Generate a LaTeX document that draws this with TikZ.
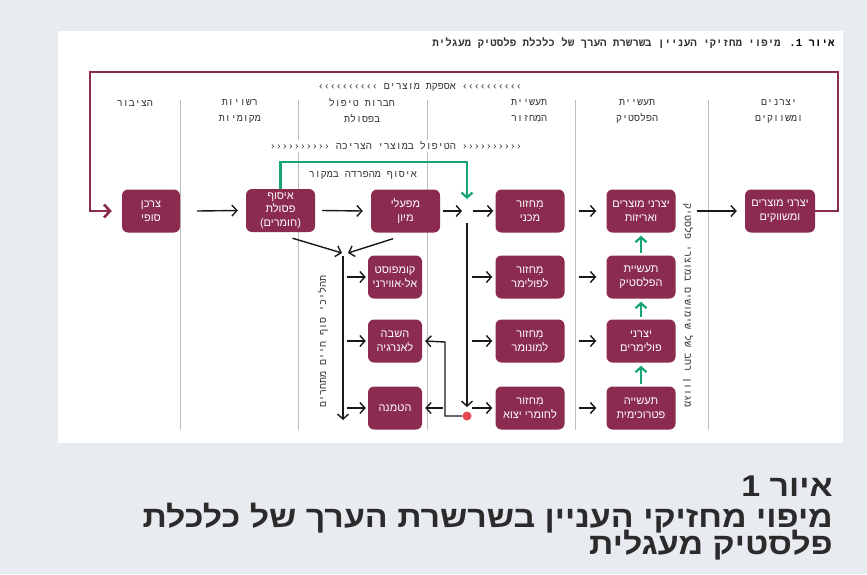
\documentclass[tikz,border=0pt]{standalone}
\usepackage{fontspec}
\usetikzlibrary{arrows.meta}
\TeXXeTstate=1
\setmainfont{Liberation Sans}
\newfontfamily\hsans[Script=Hebrew]{Liberation Sans}
\newfontfamily\lsans{Liberation Sans}
\newfontfamily\hmono[Script=Hebrew]{Liberation Mono}
\newfontfamily\lmono{Liberation Mono}
\newfontfamily\htitle[Script=Hebrew,FakeStretch=1.13]{Liberation Sans}
\newcommand\RL[1]{\beginR #1\endR}
\definecolor{maroon}{HTML}{8B2B4F}
\definecolor{bgray}{HTML}{E8EBEF}
\definecolor{grn}{HTML}{16A476}
\definecolor{sepc}{HTML}{BDBDBD}
\definecolor{txt}{HTML}{333333}
\definecolor{reddot}{HTML}{E9474F}
\definecolor{ttl}{HTML}{2B2B2B}
\begin{document}
\begin{tikzpicture}[x=1pt,y=-1pt,
  box/.style={fill=maroon, rounded corners=6pt, minimum width=69pt, minimum height=43pt,
    text=white, font=\hsans\fontsize{11}{14}\selectfont, align=center, inner sep=1pt},
  sbox/.style={box, minimum width=54pt},
  arr/.style={draw=black!90, line width=1.4pt, -{Straight Barb[length=5pt,width=11pt]}},
  garr/.style={draw=grn, line width=2.2pt, -{Straight Barb[length=5pt,width=11pt]}},
  hdr/.style={font=\hmono\fontsize{10}{16}\selectfont, text=txt, align=center},
  sepl/.style={draw=sepc, line width=0.8pt},
  ttlf/.style={font=\htitle\bfseries\fontsize{30}{30}\selectfont, text=ttl, anchor=base east, inner sep=0pt}
]
\path[use as bounding box, fill=bgray] (0,0) rectangle (867,574);
\fill[white] (58,31) rectangle (843,443);

% column separators
\foreach \x in {180,298,427,575,708} \draw[sepl] (\x,100) -- (\x,430);

% header line
\node[anchor=east, font=\hmono\bfseries\fontsize{10.75}{12}\selectfont, text=txt] (head) at (838,43)
  {\RL{{\color{maroon}איור 1.} מיפוי מחזיקי העניין בשרשרת הערך של כלכלת פלסטיק מעגלית}};

% flow labels
\node[hdr] (supply) at (420,87) {{\lmono ‹‹‹‹‹‹‹‹‹‹} \RL{אספקת מוצרים} {\lmono ‹‹‹‹‹‹‹‹‹‹}};
\node[hdr, fill=white, inner sep=2pt] (handle) at (396,146) {{\lmono ››››››››››} \RL{הטיפול במוצרי הצריכה} {\lmono ››››››››››}};

% column headers
\node[hdr] (h1) at (135,103) {\RL{הציבור}};
\node[hdr] (h2) at (240,111) {\RL{רשויות}\\\RL{מקומיות}};
\node[hdr] (h3) at (362,111) {\RL{חברות טיפול}\\\RL{בפסולת}};
\node[hdr] (h4) at (529,111) {\RL{תעשיית}\\\RL{המִחזור}};
\node[hdr] (h5) at (637,111) {\RL{תעשיית}\\\RL{הפלסטיק}};
\node[hdr] (h6) at (779,111) {\RL{יצרנים}\\\RL{ומשווקים}};

% boxes
\node[box, minimum width=58pt] (sofi) at (151,211) {\RL{צרכן}\\\RL{סופי}};
\node[box, font=\hsans\fontsize{11}{13.5}\selectfont] (isuf) at (280.5,210.5) {\RL{איסוף}\\\RL{פסולת}\\{\lsans(}\RL{חומרים}{\lsans)}};
\node[box] (miun) at (405.5,211) {\RL{מפעלי}\\\RL{מיון}};
\node[box] (mekani) at (530,211) {\RL{מִחזור}\\\RL{מכני}};
\node[box] (avizot) at (641,211) {\RL{יצרני מוצרים}\\\RL{ואריזות}};
\node[box, minimum width=70pt] (mashvikim) at (780,211) {\RL{יצרני מוצרים}\\\RL{ומשווקים}};

\node[sbox] (compost) at (395,277) {\RL{קומפוסט}\\\RL{אל-אווירני}};
\node[sbox] (hashava) at (395,341) {\RL{השבה}\\\RL{לאנרגיה}};
\node[sbox] (hatmana) at (395,408) {\RL{הטמנה}};

\node[box] (polimer) at (530,277) {\RL{מִחזור}\\\RL{לפולימר}};
\node[box] (monomer) at (530,341) {\RL{מִחזור}\\\RL{למונומר}};
\node[box] (yetzu) at (530,408) {\RL{מִחזור}\\\RL{לחומרי יצוא}};

\node[box] (plastic) at (641,277) {\RL{תעשיית}\\\RL{הפלסטיק}};
\node[box] (polymers) at (641,341) {\RL{יצרני}\\\RL{פולימרים}};
\node[box] (petro) at (641,408) {\RL{תעשייה}\\\RL{פטרוכימית}};

% vertical texts
\node[hdr, rotate=90] (eol) at (323,341) {\RL{תהליכי סוף חיים מתחרים}};
\node[hdr, rotate=-90] (uses) at (688,306) {\RL{מגוון רחב של שימושים במוצרי פלסטיק}};

% maroon loop
\coordinate (FR) at (838,72);
\coordinate (FL) at (90,72);
\draw[maroon, line width=2.6pt, -{Straight Barb[length=6pt,width=13pt]}]
  (mashvikim.east) -| (FR) -- (FL) |- ([xshift=-10pt]sofi.west);

% green separation-at-source
\coordinate (J) at (467,211);
\coordinate (Gtop) at (467,162);
\coordinate (Gend) at (467,199);
\draw[garr] (isuf.north) |- (Gtop) -- (Gend);
\node[hdr] (glabel) at (363,175) {\RL{איסוף מהפרדה במקור}};

% main row arrows
\draw[arr] ([xshift=17pt]sofi.east) -- ([xshift=-8pt]isuf.west);
\draw[arr] ([xshift=7pt]isuf.east) -- ([xshift=-8pt]miun.west);
\draw[arr] ([xshift=3pt]miun.east) -- ([xshift=-5pt]J);
\draw[arr] ([xshift=6pt]J) -- ([xshift=-2pt]mekani.west);

% vertical trunk and red dot
\coordinate (Jdown) at (467,223);
\node[circle, fill=reddot, inner sep=0pt, minimum size=9pt] (dot) at (467,416) {};
\draw[arr] (Jdown) -- ([yshift=9pt]dot.center);
\coordinate (K) at (445,342);
\draw[arr] (dot.west) -| (K) -- ([xshift=3pt]hashava.east);
\coordinate (Ht) at (443,408);
\draw[arr] (Ht) -- ([xshift=3pt]hatmana.east);

% arrows into recycling boxes
\foreach \n in {polimer,monomer,yetzu}
  \draw[arr] ([xshift=-23pt]\n.west) -- ([xshift=-3pt]\n.west);

% recycling -> plastics
\draw[arr] ([xshift=14pt]mekani.east) -- ([xshift=-10pt]avizot.west);
\draw[arr] ([xshift=14pt]polimer.east) -- ([xshift=-10pt]plastic.west);
\draw[arr] ([xshift=14pt]monomer.east) -- ([xshift=-10pt]polymers.west);
\draw[arr] ([xshift=14pt]yetzu.east) -- ([xshift=-10pt]petro.west);

\draw[arr] ([xshift=21pt]avizot.east) -- ([xshift=-8pt]mashvikim.west);

% green ups
\draw[garr] ([yshift=2pt]petro.north) -- ([yshift=-3pt]polymers.south);
\draw[garr] ([yshift=2pt]polymers.north) -- ([yshift=-3pt]plastic.south);
\draw[garr] ([yshift=2pt]plastic.north) -- ([yshift=-3pt]avizot.south);

% end-of-life arrows
\coordinate (C1) at (342,253);
\coordinate (C2) at (348,253);
\draw[arr] ([shift={(12pt,-6pt)}]isuf.south) -- (C1);
\draw[arr] ([shift={(-12.5pt,-6pt)}]miun.south) -- (C2);
\coordinate (Vtop) at (343,256);
\coordinate (Vbot) at (343,420);
\draw[arr] (Vtop) -- (Vbot);
\foreach \n in {compost,hashava,hatmana}
  \draw[arr] ([xshift=-21pt]\n.west) -- ([xshift=-2pt]\n.west);

% title
\node[ttlf] (t1) at (833,496) {\RL{איור 1}};
\node[ttlf] (t2) at (833,527) {\RL{מיפוי מחזיקי העניין בשרשרת הערך של כלכלת}};
\node[ttlf] (t3) at (833,554) {\RL{פלסטיק מעגלית}};
\end{tikzpicture}
\end{document}
